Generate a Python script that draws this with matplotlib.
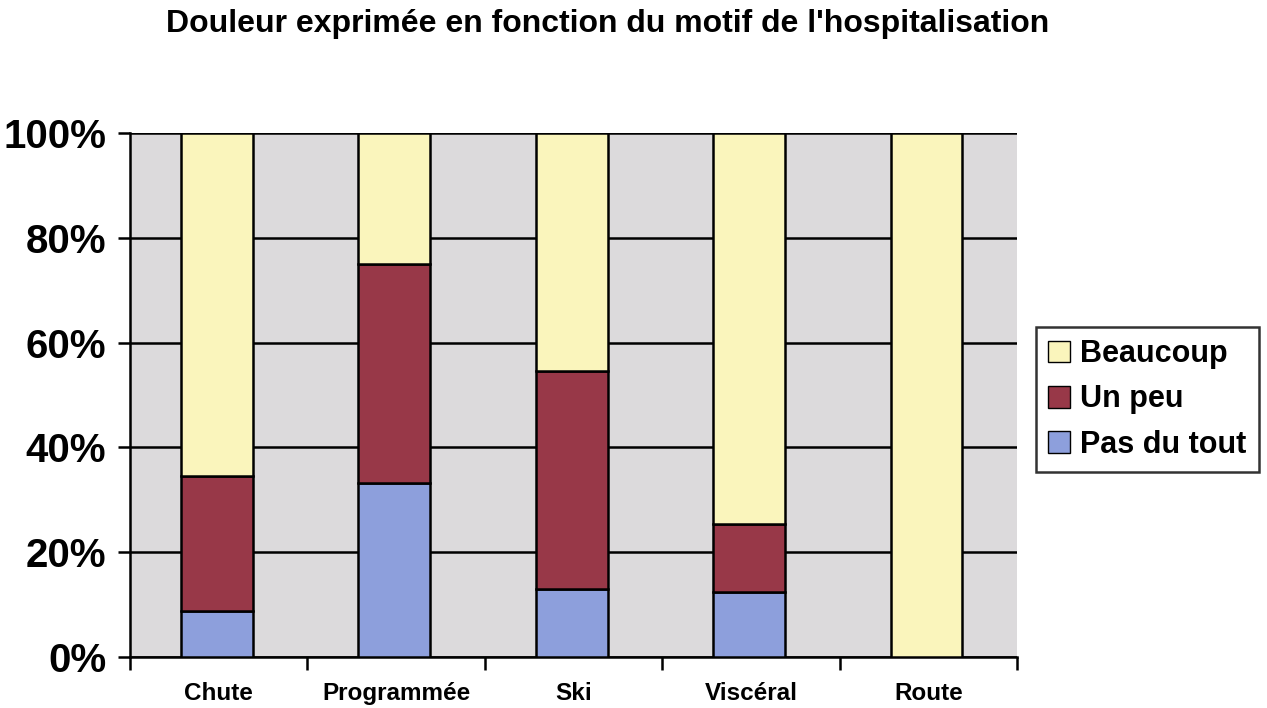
import numpy as np
import matplotlib.pyplot as plt
from matplotlib.patches import Patch

plt.rcParams['font.family'] = ['Liberation Sans', 'DejaVu Sans']
plt.rcParams['font.weight'] = 'bold'

motifs = ['Chute', 'Programmée', 'Ski', 'Viscéral', 'Route']
pas_du_tout = [8.7, 33.3, 12.9, 12.5, 0.0]
un_peu = [25.9, 41.7, 41.7, 12.8, 0.0]
beaucoup = [65.4, 25.0, 45.4, 74.7, 100.0]

c_pas = '#8d9fdc'
c_peu = '#983848'
c_bcp = '#faf5bc'
fond = '#dcdadc'

fig = plt.figure(figsize=(12.67, 7.08), dpi=100)
ax = fig.add_axes([130/1267, 1-657/708, 887/1267, 524/708])
ax.set_facecolor(fond)

x = np.arange(len(motifs))
w = 0.405
bas1 = np.array(pas_du_tout)
bas2 = bas1 + np.array(un_peu)
ax.bar(x - 0.01, pas_du_tout, w, color=c_pas, edgecolor='black', linewidth=1.8, zorder=3)
ax.bar(x - 0.01, un_peu, w, bottom=bas1, color=c_peu, edgecolor='black', linewidth=1.8, zorder=3)
ax.bar(x - 0.01, beaucoup, w, bottom=bas2, color=c_bcp, edgecolor='black', linewidth=1.8, zorder=3)

ax.set_xlim(-0.5, len(motifs) - 0.5)
ax.set_ylim(0, 100)
ax.set_yticks(range(0, 101, 20))
ax.set_yticklabels(['%d%%' % v for v in range(0, 101, 20)], fontsize=29, fontweight='bold')
ax.yaxis.grid(True, color='black', linewidth=1.8, zorder=1)
ax.set_axisbelow(True)

# ticks between the categories, labels centered on the bars
ax.set_xticks(np.arange(-0.5, len(motifs), 1.0))
ax.set_xticklabels([])
ax.set_xticks(x, minor=True)
ax.set_xticklabels(motifs, minor=True, fontsize=17.5, fontweight='bold')
ax.tick_params(axis='x', which='minor', length=0, pad=18)
ax.tick_params(axis='x', which='major', length=9, width=1.8, direction='out')
ax.tick_params(axis='y', length=9, width=1.8, direction='out', pad=8)

for s in ['top', 'right']:
    ax.spines[s].set_visible(False)
for s in ['left', 'bottom']:
    ax.spines[s].set_linewidth(1.8)

fig.text(608/1267, 1-24/708, "Douleur exprimée en fonction du motif de l'hospitalisation",
         ha='center', va='center', fontsize=23, fontweight='bold')

poignees = [Patch(facecolor=c_bcp, edgecolor='black'),
            Patch(facecolor=c_peu, edgecolor='black'),
            Patch(facecolor=c_pas, edgecolor='black')]
leg = fig.legend(poignees, ['Beaucoup', 'Un peu', 'Pas du tout'],
                 loc='upper left', bbox_to_anchor=(1036/1267, 1-327/708),
                 prop={'weight': 'bold', 'size': 22},
                 frameon=True, fancybox=False, edgecolor='black',
                 handlelength=0.7, handleheight=0.7, handletextpad=0.35,
                 labelspacing=0.5, borderpad=0.4, borderaxespad=0)
leg.get_frame().set_linewidth(1.8)

fig.savefig('out.png', dpi=100)
